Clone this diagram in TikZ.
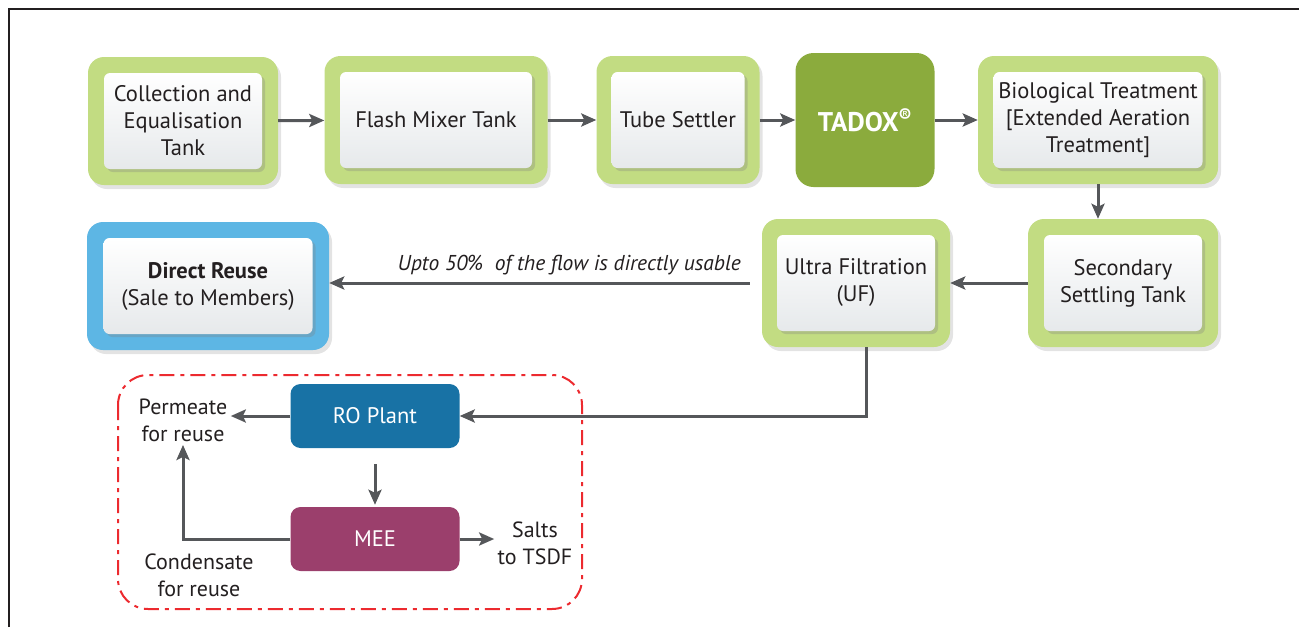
\documentclass[tikz,border=0pt]{standalone}
\usepackage{fontspec}
\setmainfont{PT Sans}
\usetikzlibrary{arrows.meta,shadows}

\definecolor{stagegreen}{HTML}{C2DC82}
\definecolor{tadoxgreen}{HTML}{8BAB3D}
\definecolor{reuseblue}{HTML}{5DB6E4}
\definecolor{roblue}{HTML}{1872A5}
\definecolor{meepurple}{HTML}{9B3F6C}
\definecolor{boxgrey}{HTML}{E6E9EB}
\definecolor{arrowgrey}{HTML}{55575A}
\definecolor{textgrey}{HTML}{231F20}
\definecolor{groupred}{HTML}{EC2A2F}

\tikzset{
  stage/.style={fill=stagegreen, rounded corners=16pt, minimum height=128pt,
    drop shadow={shadow xshift=3pt, shadow yshift=-4pt, opacity=0.22}},
  inbox/.style={rounded corners=6pt, top color=white, bottom color=boxgrey,
    minimum height=96pt, align=center, text=textgrey,
    font=\fontsize{22.5}{27}\selectfont,
    drop shadow={shadow xshift=3pt, shadow yshift=-3pt, opacity=0.3}},
  plant/.style={rounded corners=10pt, minimum width=169pt, minimum height=64pt,
    text=white, font=\fontsize{22.5}{27}\selectfont},
  note/.style={align=center, text=textgrey, font=\fontsize{22}{27}\selectfont},
  flow/.style={draw=arrowgrey, line width=3pt,
    -{Stealth[length=15pt, width=13pt, inset=3pt]}},
}

\begin{document}
\begin{tikzpicture}[x=1pt, y=-1pt]
\useasboundingbox (0,0) rectangle (1299,627);

% frame
\draw[line width=2pt, textgrey] (9,627) -- (9,9) -- (1299,9);

% first row
\node[stage, minimum width=190pt] (coll) at (183,121) {};
\node[inbox, minimum width=158pt] at (coll) {Collection and\\Equalisation\\Tank};

\node[stage, minimum width=223pt] (flash) at (436,120) {};
\node[inbox, minimum width=192pt] at (flash) {Flash Mixer Tank};

\node[stage, minimum width=163pt] (tube) at (678,120) {};
\node[inbox, minimum width=133pt] at (tube) {Tube Settler};

\node[fill=tadoxgreen, rounded corners=18pt, minimum width=139pt, minimum height=134pt,
      text=white, font=\fontsize{27}{30}\selectfont\bfseries] (tadox) at (865,120)
      {TADOX\textsuperscript{\normalfont\bfseries ®}};

\node[stage, minimum width=240pt] (bio) at (1098,120) {};
\node[inbox, minimum width=209pt] at (bio) {Biological Treatment\\{}[Extended Aeration\\Treatment]};

% second row
\node[stage, fill=reuseblue, minimum width=242pt] (reuse) at (208,286) {};
\node[inbox, minimum width=209pt] at (reuse) {\textbf{Direct Reuse}\\(Sale to Members)};

\node[stage, minimum width=188pt] (uf) at (856,283) {};
\node[inbox, minimum width=158pt] at (uf) {Ultra Filtration\\(UF)};

\node[stage, minimum width=190pt] (sec) at (1123,283) {};
\node[inbox, minimum width=158pt] at (sec) {Secondary\\Settling Tank};

% ZLD block
\draw[groupred, line width=2pt, rounded corners=30pt,
      dash pattern=on 15pt off 6pt on 4pt off 6pt] (118,375) rectangle (582,609);

\node[plant, fill=roblue] (ro) at (375,416) {RO Plant};
\node[plant, fill=meepurple] (mee) at (375,539) {MEE};
\node[note] (perm) at (183,420) {Permeate\\for reuse};
\node[note] (cond) at (199,575) {Condensate\\for reuse};
\node[note] (salts) at (535,543) {Salts\\to TSDF};

% flows
\draw[flow] (coll) -- (flash);
\draw[flow] (flash) -- (tube);
\draw[flow] (tube) -- (tadox);
\draw[flow] (tadox) -- (bio);
\draw[flow] (bio.south) -- (bio.south |- sec.north);
\draw[flow] (sec.west) -- (uf.east);
\draw[flow, shorten <=12pt] (uf.west) -- (uf.west -| reuse.east)
  node[pos=0.445, above=3pt, note, font=\fontsize{21.5}{26}\selectfont\itshape]
  {Upto 50\%\ \ of the flow is directly usable};
\draw[flow] ([xshift=10pt]uf.south) |- (ro.east);
\draw[flow] (ro.west) -- (ro.west -| perm.east);
\draw[flow, shorten <=16pt, shorten >=2pt] (ro.south) -- (mee.north);
\draw[flow] (mee.west) -| (perm.south);
\draw[flow] (mee.east) -- (mee.east -| salts.west);

\end{tikzpicture}
\end{document}
